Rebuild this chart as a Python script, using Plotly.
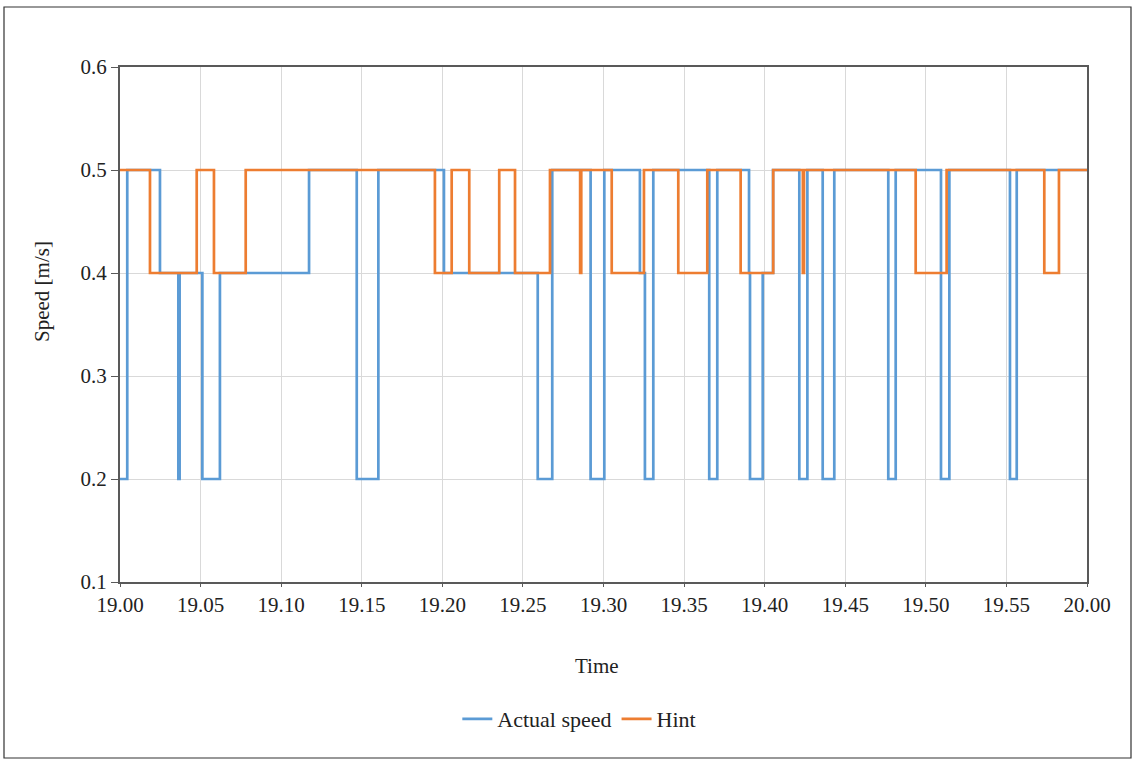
import plotly.graph_objects as go

# minutes after 19:00
actual_t = [0, 0.45, 2.48, 3.62, 3.70, 5.11, 6.20, 11.73, 14.69, 16.03, 20.10, 25.92, 26.82,
            29.20, 30.05, 32.26, 32.57, 33.09, 36.56, 37.06, 39.03, 39.09, 39.88, 40.52,
            42.15, 42.65, 43.60, 44.32, 47.67, 48.13, 50.94, 51.46, 55.22, 55.64, 60]
actual_v = [0.2, 0.5, 0.4, 0.2, 0.4, 0.2, 0.4, 0.5, 0.2, 0.5, 0.4, 0.2, 0.5,
            0.2, 0.5, 0.4, 0.2, 0.5, 0.2, 0.5, 0.4, 0.2, 0.4, 0.5,
            0.2, 0.5, 0.2, 0.5, 0.2, 0.5, 0.2, 0.5, 0.2, 0.5, 0.5]

hint_t = [0, 1.86, 4.76, 5.83, 7.80, 19.54, 20.58, 21.67, 23.53, 24.51, 26.68, 28.55, 28.62,
          30.51, 32.51, 34.64, 36.44, 38.51, 40.53, 42.37, 42.44, 49.37, 51.29, 57.35, 58.26, 60]
hint_v = [0.5, 0.4, 0.5, 0.4, 0.5, 0.4, 0.5, 0.4, 0.5, 0.4, 0.5, 0.4, 0.5,
          0.4, 0.5, 0.4, 0.5, 0.4, 0.5, 0.4, 0.5, 0.4, 0.5, 0.4, 0.5, 0.5]

tick_vals = list(range(0, 61, 5))
tick_text = ["19.00", "19.05", "19.10", "19.15", "19.20", "19.25", "19.30",
             "19.35", "19.40", "19.45", "19.50", "19.55", "20.00"]
y_ticks = [0.1, 0.2, 0.3, 0.4, 0.5, 0.6]

W, H = 1132, 759
L, R, T, B = 120, 1087, 67, 582
FONT = "Liberation Serif, Times New Roman, serif"
TXT = "#222222"

fig = go.Figure()
fig.add_trace(go.Scatter(x=actual_t, y=actual_v, mode="lines", line_shape="hv",
                         name="Actual speed", line=dict(color="#5B9BD5", width=2.7)))
fig.add_trace(go.Scatter(x=hint_t, y=hint_v, mode="lines", line_shape="hv",
                         name="Hint", line=dict(color="#ED7D31", width=2.7)))

def px_x(p):
    return (p - L) / (R - L)

def px_y(p):
    return (B - p) / (B - T)

fig.update_layout(
    width=W, height=H,
    margin=dict(l=L, r=W - R, t=T, b=H - B, autoexpand=False),
    paper_bgcolor="white", plot_bgcolor="white",
    font=dict(family=FONT, size=21, color=TXT),
    showlegend=True,
    legend=dict(orientation="h", x=0.475, xanchor="center", y=px_y(719), yanchor="middle",
                font=dict(family=FONT, size=22, color=TXT), itemwidth=30,
                tracegroupgap=0),
    shapes=[dict(type="rect", xref="paper", yref="paper",
                 x0=px_x(4), x1=px_x(1131), y0=px_y(758), y1=px_y(7),
                 line=dict(color="#333333", width=1.2), fillcolor="rgba(0,0,0,0)")],
    annotations=[
        dict(text="Speed [m/s]", xref="paper", yref="paper", x=px_x(42), y=px_y(292),
             showarrow=False, textangle=-90, font=dict(family=FONT, size=21, color=TXT),
             xanchor="center", yanchor="middle"),
        dict(text="Time", xref="paper", yref="paper", x=px_x(597), y=px_y(666),
             showarrow=False, font=dict(family=FONT, size=21, color=TXT),
             xanchor="center", yanchor="middle"),
    ],
)
fig.update_xaxes(range=[0, 60], tickvals=tick_vals, ticktext=tick_text,
                 showgrid=True, gridcolor="#D9D9D9", gridwidth=1,
                 showline=True, linecolor="#595959", linewidth=2, mirror=True,
                 ticks="outside", ticklen=3, tickcolor="#595959", zeroline=False,
                 tickfont=dict(family=FONT, size=21, color=TXT))
fig.update_yaxes(range=[0.1, 0.6], tickvals=y_ticks, ticktext=[f"{v:.1f}" for v in y_ticks],
                 showgrid=True, gridcolor="#D9D9D9", gridwidth=1,
                 showline=True, linecolor="#595959", linewidth=2, mirror=True,
                 ticks="outside", ticklen=7, tickcolor="#595959", zeroline=False,
                 tickfont=dict(family=FONT, size=21, color=TXT))

fig.write_html("out.html", config={"displayModeBar": False},
               post_script="document.body.style.margin='0px';document.body.style.overflow='hidden';")
